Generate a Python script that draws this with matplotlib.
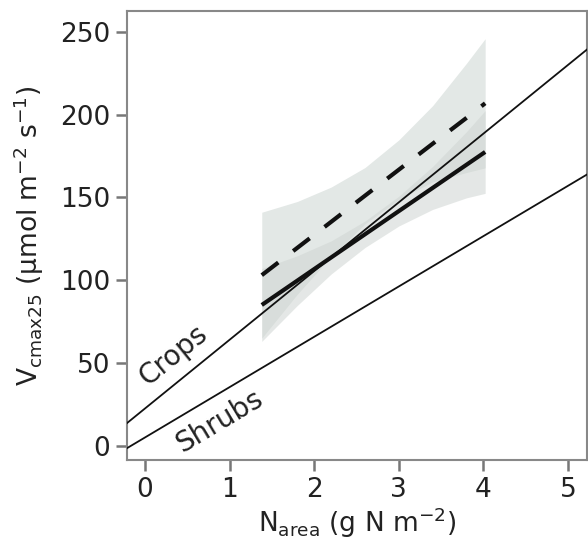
import matplotlib
matplotlib.use("Agg")
import matplotlib.pyplot as plt
import numpy as np

plt.rcParams['font.family'] = ['DejaVu Sans']

# Reference lines (intercept, slope)
crops_coef = [22.5, 41.5]
shrubs_coef = [5.0, 30.4]
line_x = [-0.3, 5.3]

# Fitted lines with confidence bands
ci_x = [1.38, 1.8, 2.2, 2.6, 3.0, 3.4, 3.8, 4.02]
dashed_y = [103, 119.5, 135.2, 151, 166.7, 182.4, 198, 206.8]
dashed_hw = [38, 28, 21, 17, 18, 23, 33, 39]
solid_y = [85, 99.7, 113.7, 127.7, 141.7, 155.7, 169.7, 177.4]
solid_hw = [22, 15, 10, 8, 9, 13, 20, 25]

xticks = [0, 1, 2, 3, 4, 5]
yticks = [0, 50, 100, 150, 200, 250]

fig = plt.figure(figsize=(5.88, 5.52), dpi=100)
ax = fig.add_axes([0.2155, 0.1667, 0.7823, 0.8133])

ci_x_a = np.array(ci_x)
dy = np.array(dashed_y); dh = np.array(dashed_hw)
sy = np.array(solid_y); sh = np.array(solid_hw)
ax.fill_between(ci_x_a, dy - dh, dy + dh, color='#e3e8e6', lw=0, zorder=1)
ax.fill_between(ci_x_a, sy - sh, sy + sh, color='#cfd5d2', alpha=0.55, lw=0, zorder=2)

lx = np.array(line_x)
ax.plot(lx, crops_coef[0] + crops_coef[1] * lx, color='#111111', lw=1.3, zorder=3)
ax.plot(lx, shrubs_coef[0] + shrubs_coef[1] * lx, color='#111111', lw=1.3, zorder=3)

ax.plot(ci_x_a, sy, color='#111111', lw=3.0, solid_capstyle='butt', zorder=4)
ax.plot(ci_x_a, dy, color='#111111', lw=3.0, dashes=(5, 4.5), zorder=4)

ax.text(0.34, 54.5, 'Crops', rotation=39, fontsize=20, ha='center', va='center', color='#222222')
ax.text(0.88, 14.5, 'Shrubs', rotation=31, fontsize=20, ha='center', va='center', color='#222222')

ax.set_xlim(-0.216, 5.22)
ax.set_ylim(-8.6, 262.5)
ax.set_xticks(xticks)
ax.set_yticks(yticks)
ax.tick_params(axis='both', direction='out', length=8, width=1.8, color='#777777',
               labelsize=19, labelcolor='#222222', pad=4)
for s in ax.spines.values():
    s.set_color('#888888')
    s.set_linewidth(1.5)

ax.set_xlabel(r'N$_{\mathrm{area}}$ (g N m$^{-2}$)', fontsize=19, color='#222222', labelpad=2)
ax.set_ylabel(r'V$_{\mathrm{cmax25}}$ (µmol m$^{-2}$ s$^{-1}$)', fontsize=19, color='#222222', labelpad=10)

fig.savefig('out.png', dpi=100)
